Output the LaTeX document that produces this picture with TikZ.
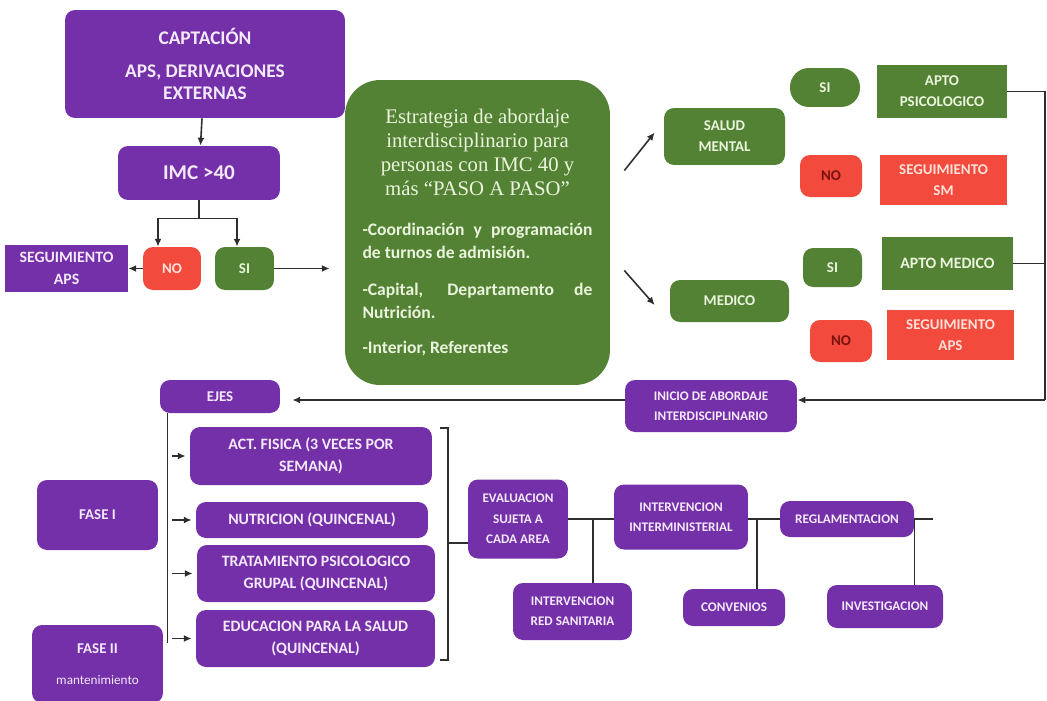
\documentclass[tikz,border=0pt]{standalone}
\usepackage{fontspec}
\setmainfont{Carlito}
\newfontfamily\titulofont{Liberation Serif}
\usetikzlibrary{arrows.meta,calc}

\definecolor{morado}{HTML}{7430A8}
\definecolor{verde}{HTML}{548235}
\definecolor{rojo}{HTML}{F24A3C}
\definecolor{txtmorado}{HTML}{F4E9FB}
\definecolor{txtverde}{HTML}{EAF4DC}
\definecolor{txtrojo}{HTML}{FFE0DA}
\definecolor{txtno}{HTML}{7A1212}
\definecolor{gris}{HTML}{2E2E2E}

\begin{document}
\begin{tikzpicture}[x=0.02cm, y=-0.02cm,
    font=\bfseries\fontsize{8.5}{12}\selectfont,
    caja/.style={inner sep=1pt, align=center, rounded corners=0.2cm},
    morada/.style={caja, fill=morado, text=txtmorado},
    verdecaja/.style={caja, fill=verde, text=txtverde},
    rojacaja/.style={caja, fill=rojo, text=txtrojo},
    chica/.style={font=\bfseries\fontsize{7.5}{11.6}\selectfont},
    media/.style={font=\bfseries\fontsize{9}{12.5}\selectfont},
    flecha/.style={draw=gris, line width=0.9pt, -{Latex[length=4.5pt,width=4pt]}},
    conector/.style={draw=gris, line width=0.9pt}]

    \useasboundingbox (0,0) rectangle (1047,700);

    % ─────────── captación ─────────────────────────────────────────────
    \node[morada, minimum width=5.6cm, minimum height=2.16cm,
          font=\bfseries\fontsize{11}{12.5}\selectfont] (captacion) at (205,64)
          {CAPTACIÓN\\[6pt]APS, DERIVACIONES\\EXTERNAS};
    \node[morada, minimum width=3.24cm, minimum height=1.08cm,
          font=\bfseries\fontsize{12}{14}\selectfont] (imc) at (199,173) {IMC >40};
    \node[rojacaja, minimum width=1.16cm, minimum height=0.86cm] (no1) at (172,268.5) {NO};
    \node[verdecaja, minimum width=1.18cm, minimum height=0.86cm] (si1) at (244.5,268.5) {SI};
    \node[morada, media, sharp corners, minimum width=2.46cm, minimum height=0.94cm] (segaps1) at (66.5,268.5)
          {SEGUIMIENTO\\APS};

    \draw[flecha] (captacion) -- (imc);
    \coordinate (imcsplit) at ($(imc.south)+(0,18)$);
    \draw[conector] (imc.south) -- (imcsplit);
    \draw[flecha] (imcsplit) -| ([xshift=-0.28cm]no1.north);
    \draw[flecha] (imcsplit) -| ([xshift=-0.15cm]si1.north);
    \draw[flecha] (no1) -- (segaps1);

    % ─────────── estrategia ────────────────────────────────────────────
    \node[verdecaja, rounded corners=0.7cm, minimum width=5.3cm, minimum height=6.1cm,
          font=\bfseries\fontsize{10}{13}\selectfont] (estrategia) at (477.5,232.5)
          {\begin{minipage}{4.6cm}
           \hyphenpenalty=10000 \hbadness=10000 \hfuzz=20pt
           {\centering\titulofont\mdseries\fontsize{11.8}{13.6}\selectfont
            Estrategia de abordaje\\interdisciplinario para\\personas con IMC 40 y\\más “PASO A PASO”\par}
           \vspace{10pt}
           \noindent -Coordinación y programación\linebreak de turnos de admisión.\par
           \vspace{8pt}
           \noindent -Capital, Departamento de\linebreak Nutrición.\par
           \vspace{7pt}
           \noindent -Interior, Referentes\par
           \end{minipage}};
    \draw[flecha, shorten >=0.3cm] (si1.east) -- (si1.east -| estrategia.west);

    % ─────────── salud mental / medico ─────────────────────────────────
    \node[verdecaja, minimum width=2.42cm, minimum height=1.14cm] (salud) at (724.5,136.5) {SALUD\\MENTAL};
    \node[verdecaja, minimum width=2.38cm, minimum height=0.84cm] (medico) at (729.5,301) {MEDICO};
    \draw[flecha] ($(estrategia.east)+(14,-62)$) -- ($(salud.west)+(-9,-4)$);
    \draw[flecha] ($(estrategia.east)+(14,38)$) -- ($(medico.west)+(-15,4)$);

    \node[verdecaja, rounded corners=0.38cm, minimum width=1.4cm, minimum height=0.78cm] (si2) at (825,87.5) {SI};
    \node[rojacaja, text=txtno, minimum width=1.24cm, minimum height=0.84cm] (no2) at (831,176) {NO};
    \node[verdecaja, sharp corners, minimum width=2.6cm, minimum height=1.06cm] (aptopsi) at (942,91.5)
          {APTO\\PSICOLOGICO};
    \node[rojacaja, sharp corners, minimum width=2.54cm, minimum height=1.0cm] (segsm) at (943.5,180)
          {SEGUIMIENTO\\SM};
    \node[verdecaja, minimum width=1.18cm, minimum height=0.78cm] (si3) at (832.5,267.5) {SI};
    \node[rojacaja, text=txtno, minimum width=1.24cm, minimum height=0.84cm] (no3) at (841,341) {NO};
    \node[verdecaja, media, sharp corners, minimum width=2.62cm, minimum height=1.06cm] (aptomed) at (947.5,263.5)
          {APTO MEDICO};
    \node[rojacaja, sharp corners, minimum width=2.54cm, minimum height=1.0cm] (segaps2) at (950.5,335)
          {SEGUIMIENTO\\APS};

    % ─────────── inicio de abordaje ────────────────────────────────────
    \node[morada, chica, minimum width=3.44cm, minimum height=1.04cm] (inicio) at (711,406)
          {INICIO DE ABORDAJE\\INTERDISCIPLINARIO};
    \coordinate (rail) at (1045,400);
    \draw[conector] (aptopsi.east) -| (rail);
    \draw[conector] (aptomed.east) -- (aptomed.east -| rail);
    \draw[flecha] (rail) -- (rail -| inicio.east);

    % ─────────── ejes ──────────────────────────────────────────────────
    \node[morada, minimum width=2.4cm, minimum height=0.66cm] (ejes) at (220,396.5) {EJES};
    \draw[flecha, shorten >=0.24cm] (inicio.west |- rail) -- (rail -| ejes.east);

    \node[morada, media, minimum width=4.84cm, minimum height=1.16cm] (act) at (311,456)
          {ACT. FISICA (3 VECES POR\\SEMANA)};
    \node[morada, media, minimum width=4.64cm, minimum height=0.72cm] (nutr) at (312,520)
          {NUTRICION (QUINCENAL)};
    \node[morada, media, minimum width=4.76cm, minimum height=1.14cm] (trat) at (316,573.5)
          {TRATAMIENTO PSICOLOGICO\\GRUPAL (QUINCENAL)};
    \node[morada, media, minimum width=4.78cm, minimum height=1.14cm] (educ) at (315.5,638.5)
          {EDUCACION PARA LA SALUD\\(QUINCENAL)};
    \node[morada, minimum width=2.42cm, minimum height=1.4cm] (fase1) at (97.5,515) {FASE I};
    \node[morada, minimum width=2.62cm, minimum height=1.56cm] (fase2) at (97.5,664)
          {FASE II\\[6pt]{\mdseries\fontsize{7.5}{9}\selectfont mantenimiento}};

    \coordinate (ejesbaja) at ($(ejes.south west)+(8,0)$);
    \draw[conector] (ejesbaja) -- ($(ejesbaja |- educ.west)+(0,4)$);
    \foreach \eje in {act,nutr,trat,educ}
      \draw[flecha] ($(ejesbaja |- \eje.west)+(4,0)$) -- ([xshift=-0.08cm]\eje.west);

    % ─────────── evaluacion / intervenciones ───────────────────────────
    \node[morada, chica, minimum width=2.0cm, minimum height=1.58cm] (evaluacion) at (518,519)
          {EVALUACION\\SUJETA A\\CADA AREA};
    \node[morada, chica, minimum width=2.68cm, minimum height=1.3cm] (intermin) at (681,517)
          {INTERVENCION\\INTERMINISTERIAL};
    \node[morada, chica, minimum width=2.68cm, minimum height=0.72cm] (reglam) at (847,519)
          {REGLAMENTACION};
    \node[morada, chica, minimum width=2.38cm, minimum height=1.14cm] (redsan) at (572.5,611.5)
          {INTERVENCION\\RED SANITARIA};
    \node[morada, chica, minimum width=2.04cm, minimum height=0.74cm] (convenios) at (734,607.5)
          {CONVENIOS};
    \node[morada, chica, minimum width=2.32cm, minimum height=0.86cm] (investig) at (885,606.5)
          {INVESTIGACION};

    % llave
    \coordinate (llave) at (448,543);
    \draw[conector] (440,428) -| (448,660) -- (440,660);
    \draw[conector] (llave) -- (llave -| evaluacion.west);

    \draw[conector] (evaluacion.east) -- (evaluacion.east -| intermin.west);
    \draw[conector] (intermin.east |- reglam.west) -- (reglam.west);
    \draw[conector] (reglam.east) -- ++(19,0);
    \coordinate (bajada1) at ($(evaluacion.east)!0.54!(evaluacion.east -| intermin.west)$);
    \draw[conector] (bajada1) -- (bajada1 |- redsan.north);
    \coordinate (bajada2) at ($(intermin.east |- reglam.west)!0.28!(reglam.west)$);
    \draw[conector] (bajada2) -- (bajada2 |- convenios.north);
    \draw[conector] (reglam.east) -- (reglam.east |- investig.north);
  \end{tikzpicture}
\end{document}
